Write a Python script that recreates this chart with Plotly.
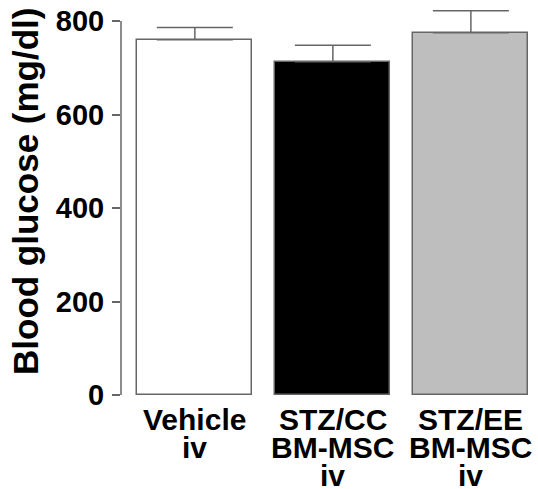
import plotly.graph_objects as go

categories = ["Vehicle", "STZ/CC", "STZ/EE"]
label_lines = [["Vehicle", "iv"], ["STZ/CC", "BM-MSC", "iv"], ["STZ/EE", "BM-MSC", "iv"]]
glucose = [760, 713, 775]
sem = [26, 35, 47]
colors = ["#ffffff", "#000000", "#bebebe"]
y_ticks = [0, 200, 400, 600, 800]
y_title = "Blood glucose (mg/dl)"

FONT = "Liberation Sans, Arial, sans-serif"
GRAY = "#666666"

fig = go.Figure()
fig.add_trace(go.Bar(
    x=list(range(len(categories))),
    y=glucose,
    width=0.833,
    marker=dict(color=colors, line=dict(color=GRAY, width=1.5)),
    error_y=dict(type="data", array=sem, symmetric=False, arrayminus=[0, 0, 0],
                 color=GRAY, thickness=1.5, width=38),
    showlegend=False,
))

# y axis line from 0 to 800 only
fig.add_shape(type="line", xref="paper", yref="y", x0=0, x1=0, y0=0, y1=800,
              line=dict(color=GRAY, width=1.5))

# category labels, tight line spacing
for i, lines in enumerate(label_lines):
    for j, t in enumerate(lines):
        fig.add_annotation(x=i, xref="x", y=0, yref="paper", text="<b>%s</b>" % t,
                           showarrow=False, yanchor="top", yshift=-6 - 28 * j,
                           font=dict(family=FONT, size=30, color="black"))

fig.add_annotation(x=0, xref="paper", y=0.5, yref="paper", text="<b>%s</b>" % y_title,
                   textangle=-90, showarrow=False, xanchor="center", yanchor="middle",
                   xshift=-96, yshift=9,
                   font=dict(family=FONT, size=35, color="black"))

fig.update_layout(
    width=538, height=489,
    margin=dict(l=121, r=5, t=5, b=94),
    plot_bgcolor="white", paper_bgcolor="white",
    bargap=0,
    xaxis=dict(range=[-0.535, 2.45], showticklabels=False, ticks="", showline=False,
               showgrid=False, zeroline=False),
    yaxis=dict(range=[0, 830], tickvals=y_ticks, ticktext=["<b>%d</b>" % v for v in y_ticks],
               ticks="outside", ticklen=8, tickwidth=1.5, tickcolor=GRAY,
               showline=False, showgrid=False, zeroline=False,
               tickfont=dict(family=FONT, size=29, color="black"),
               ticklabelstandoff=2),
)

fig.write_html("out.html")
